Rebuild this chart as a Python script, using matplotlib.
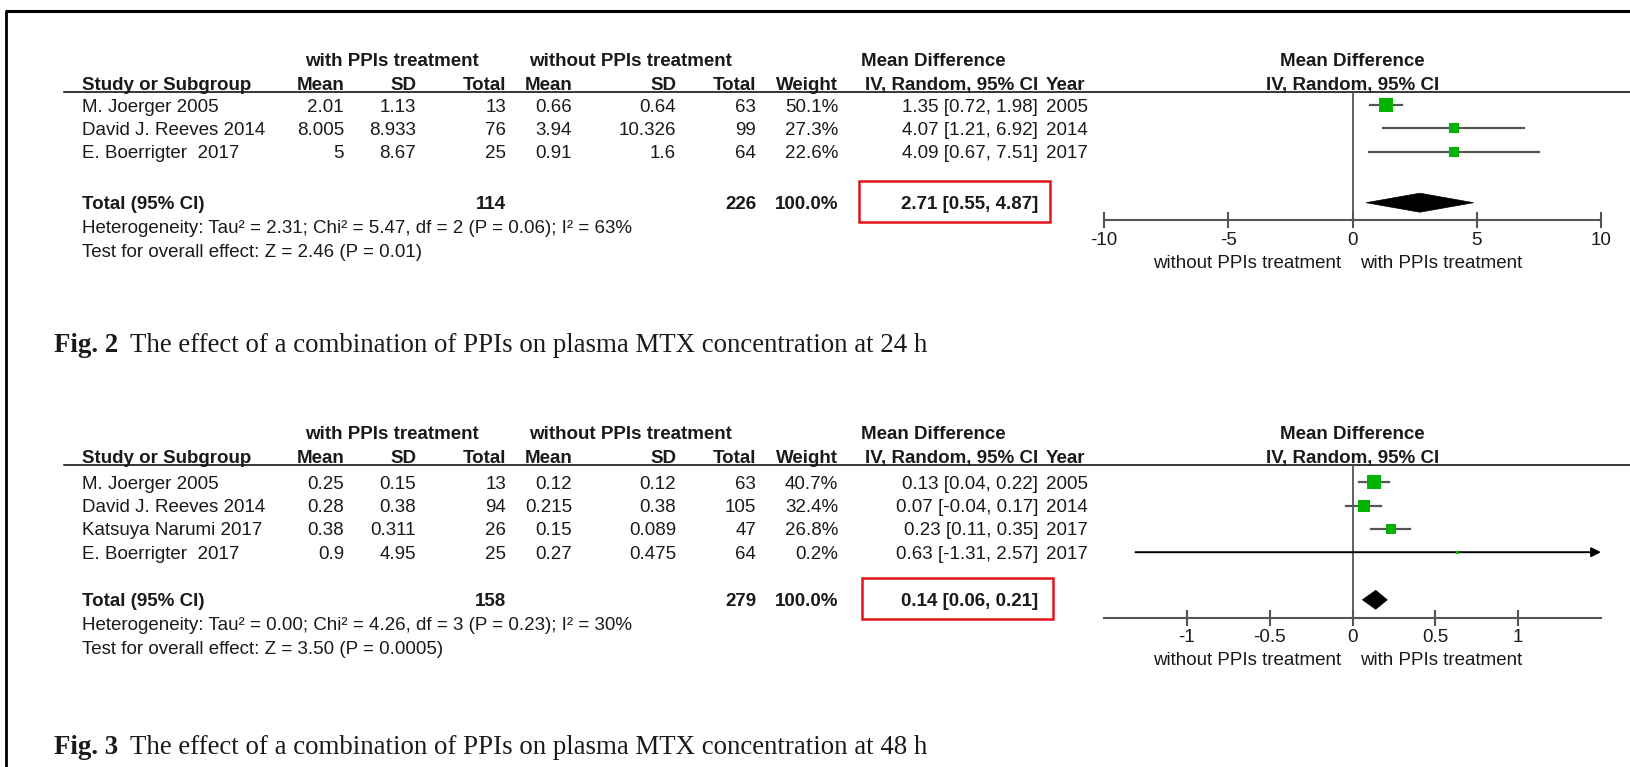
import matplotlib.pyplot as plt
from matplotlib.patches import Rectangle, Polygon

plt.rcParams['font.family'] = ['Liberation Sans', 'DejaVu Sans']
plt.rcParams['axes.unicode_minus'] = False

W, H = 1630, 767
FS = 13.5
INK = '#1a1a1a'
GREY = '#555555'
GREEN = '#00b400'
RED = '#e3141b'

# Fig. 2 - plasma MTX at 24 h
studies_24 = ["M. Joerger 2005", "David J. Reeves 2014", "E. Boerrigter  2017"]
years_24 = [2005, 2014, 2017]
ppi_mean_24 = [2.01, 8.005, 5]
ppi_sd_24 = [1.13, 8.933, 8.67]
ppi_n_24 = [13, 76, 25]
ctl_mean_24 = [0.66, 3.94, 0.91]
ctl_sd_24 = [0.64, 10.326, 1.6]
ctl_n_24 = [63, 99, 64]
weight_24 = [50.1, 27.3, 22.6]
md_24 = [1.35, 4.07, 4.09]
md_lo_24 = [0.72, 1.21, 0.67]
md_hi_24 = [1.98, 6.92, 7.51]
pooled_24 = [2.71, 0.55, 4.87]
het_24 = "Heterogeneity: Tau² = 2.31; Chi² = 5.47, df = 2 (P = 0.06); I² = 63%"
z_24 = "Test for overall effect: Z = 2.46 (P = 0.01)"
ticks_24 = [-10, -5, 0, 5, 10]

# Fig. 3 - plasma MTX at 48 h
studies_48 = ["M. Joerger 2005", "David J. Reeves 2014", "Katsuya Narumi 2017", "E. Boerrigter  2017"]
years_48 = [2005, 2014, 2017, 2017]
ppi_mean_48 = [0.25, 0.28, 0.38, 0.9]
ppi_sd_48 = [0.15, 0.38, 0.311, 4.95]
ppi_n_48 = [13, 94, 26, 25]
ctl_mean_48 = [0.12, 0.215, 0.15, 0.27]
ctl_sd_48 = [0.12, 0.38, 0.089, 0.475]
ctl_n_48 = [63, 105, 47, 64]
weight_48 = [40.7, 32.4, 26.8, 0.2]
md_48 = [0.13, 0.07, 0.23, 0.63]
md_lo_48 = [0.04, -0.04, 0.11, -1.31]
md_hi_48 = [0.22, 0.17, 0.35, 2.57]
pooled_48 = [0.14, 0.06, 0.21]
het_48 = "Heterogeneity: Tau² = 0.00; Chi² = 4.26, df = 3 (P = 0.23); I² = 30%"
z_48 = "Test for overall effect: Z = 3.50 (P = 0.0005)"
ticks_48 = [-1, -0.5, 0, 0.5, 1]

total_weight = 100.0
caption_24 = "The effect of a combination of PPIs on plasma MTX concentration at 24 h"
caption_48 = "The effect of a combination of PPIs on plasma MTX concentration at 48 h"

# column anchors (pixels from the left edge)
X_STUDY = 82
X_MEAN1, X_SD1, X_N1 = 344, 416, 506
X_MEAN2, X_SD2, X_N2 = 572, 676, 756
X_WT, X_CI, X_YEAR = 838, 1038, 1046
X_GRP1, X_GRP2, X_MDHEAD = 305, 529, 861
PLOT_L, PLOT_R = 1104, 1601
PLOT_C = (PLOT_L + PLOT_R) / 2

fig = plt.figure(figsize=(W / 100, H / 100), dpi=100)
bg = fig.add_axes([0, 0, 1, 1])
bg.set_xlim(0, W)
bg.set_ylim(H, 0)
bg.axis('off')


def txt(x, y, s, ha='left', bold=False, **kw):
    bg.text(x, y + 6.5, s, ha=ha, va='baseline', fontsize=FS,
            fontweight='bold' if bold else 'normal', color=INK, **kw)


def draw_panel(y0, studies, years, m1, s1, n1, m2, s2, n2, wt, md, lo, hi,
               pooled, het, zline, lim, ticks, row0, total_off, box_dx):
    y_hdr = y0 + 24
    y_rule = y0 + 33
    rows_y = [y0 + row0 + 23.3 * i for i in range(len(studies))]
    y_total = y0 + total_off
    y_axis = y_total + 17.7

    # group headings
    txt(X_GRP1, y0, "with PPIs treatment", bold=True)
    txt(X_GRP2, y0, "without PPIs treatment", bold=True)
    txt(X_MDHEAD, y0, "Mean Difference", bold=True)
    txt(PLOT_C, y0, "Mean Difference", ha='center', bold=True)

    txt(X_STUDY, y_hdr, "Study or Subgroup", bold=True)
    for x, s in [(X_MEAN1, "Mean"), (X_SD1, "SD"), (X_N1, "Total"),
                 (X_MEAN2, "Mean"), (X_SD2, "SD"), (X_N2, "Total"),
                 (X_WT, "Weight"), (X_CI, "IV, Random, 95% CI")]:
        txt(x, y_hdr, s, ha='right', bold=True)
    txt(X_YEAR, y_hdr, "Year", bold=True)
    txt(PLOT_C, y_hdr, "IV, Random, 95% CI", ha='center', bold=True)
    bg.plot([64, W], [y_rule, y_rule], color='black', lw=1.1)

    for i, y in enumerate(rows_y):
        txt(X_STUDY, y, studies[i])
        txt(X_MEAN1, y, f"{m1[i]:g}", ha='right')
        txt(X_SD1, y, f"{s1[i]:g}", ha='right')
        txt(X_N1, y, f"{n1[i]}", ha='right')
        txt(X_MEAN2, y, f"{m2[i]:g}", ha='right')
        txt(X_SD2, y, f"{s2[i]:g}", ha='right')
        txt(X_N2, y, f"{n2[i]}", ha='right')
        txt(X_WT, y, f"{wt[i]:.1f}%", ha='right')
        txt(X_CI, y, f"{md[i]:.2f} [{lo[i]:.2f}, {hi[i]:.2f}]", ha='right')
        txt(X_YEAR, y, f"{years[i]}")

    txt(X_STUDY, y_total, "Total (95% CI)", bold=True)
    txt(X_N1, y_total, f"{sum(n1)}", ha='right', bold=True)
    txt(X_N2, y_total, f"{sum(n2)}", ha='right', bold=True)
    txt(X_WT, y_total, f"{total_weight:.1f}%", ha='right', bold=True)
    txt(X_CI, y_total, f"{pooled[0]:.2f} [{pooled[1]:.2f}, {pooled[2]:.2f}]",
        ha='right', bold=True)
    bg.add_patch(Rectangle((X_CI - 179 + box_dx, y_total - 22), 191, 41.5,
                           fill=False, ec=RED, lw=1.8))
    txt(X_STUDY, y_total + 24, het)
    txt(X_STUDY, y_total + 47.5, zline)

    # forest plot, y measured in the same pixel rows as the table
    ax = fig.add_axes([PLOT_L / W, 1 - y_axis / H,
                       (PLOT_R - PLOT_L) / W, (y_axis - y_rule) / H])
    ax.set_xlim(-lim, lim)
    ax.set_ylim(y_axis, y_rule)
    ax.patch.set_alpha(0)
    for side in ['top', 'left', 'right']:
        ax.spines[side].set_visible(False)
    ax.spines['bottom'].set_color(GREY)
    ax.spines['bottom'].set_linewidth(1.5)
    ax.set_yticks([])
    ax.set_xticks(ticks)
    ax.set_xticklabels([f"{t:g}" for t in ticks])
    ax.tick_params(axis='x', direction='inout', length=11, width=1.5,
                   color=GREY, labelsize=FS, labelcolor=INK, pad=3)
    ax.axvline(0, color=GREY, lw=1.3, zorder=1)

    for i, y in enumerate(rows_y):
        if hi[i] > lim:
            ax.annotate('', xy=(lim, y), xytext=(lo[i], y),
                        arrowprops=dict(arrowstyle='-|>', color='black',
                                        lw=1.4, mutation_scale=14,
                                        shrinkA=0, shrinkB=0))
        else:
            ax.plot([lo[i], hi[i]], [y, y], color=GREY, lw=1.6, zorder=2)
        side_px = max(2.1 * wt[i] ** 0.5, 3)
        ax.plot(md[i], y, marker='s', ms=side_px * 0.72, color=GREEN,
                mec=GREEN, mew=0, ls='none', zorder=3)

    est, p_lo, p_hi = pooled
    ax.add_patch(Polygon([(p_lo, y_total), (est, y_total - 9.5),
                          (p_hi, y_total), (est, y_total + 9.5)],
                         closed=True, fc='black', ec='black', lw=0.5,
                         zorder=3))

    y_side = y_axis + 40.6
    txt(PLOT_C - 11, y_side, "without PPIs treatment", ha='right')
    txt(PLOT_C + 8, y_side, "with PPIs treatment")


def caption(y, num, text):
    bg.text(54, y + 8.7, f"Fig. {num}", ha='left', va='baseline', fontsize=19.4,
            fontweight='bold', family='Liberation Serif', color=INK)
    bg.text(130, y + 8.7, text, ha='left', va='baseline', fontsize=19.4,
            family='Liberation Serif', color=INK)


# page frame
bg.plot([5, W], [10.5, 10.5], color='black', lw=2.2, solid_capstyle='butt')
bg.plot([5.5, 5.5], [10.5, H], color='black', lw=2.0, solid_capstyle='butt')

draw_panel(59.3, studies_24, years_24, ppi_mean_24, ppi_sd_24, ppi_n_24,
           ctl_mean_24, ctl_sd_24, ctl_n_24, weight_24, md_24, md_lo_24,
           md_hi_24, pooled_24, het_24, z_24, 10, ticks_24,
           row0=45.7, total_off=143.4, box_dx=0)
caption(343, 2, caption_24)

draw_panel(432.4, studies_48, years_48, ppi_mean_48, ppi_sd_48, ppi_n_48,
           ctl_mean_48, ctl_sd_48, ctl_n_48, weight_48, md_48, md_lo_48,
           md_hi_48, pooled_48, het_48, z_48, 1.5, ticks_48,
           row0=49.9, total_off=167.4, box_dx=3)
caption(745, 3, caption_48)

fig.savefig("out.png", dpi=100)
